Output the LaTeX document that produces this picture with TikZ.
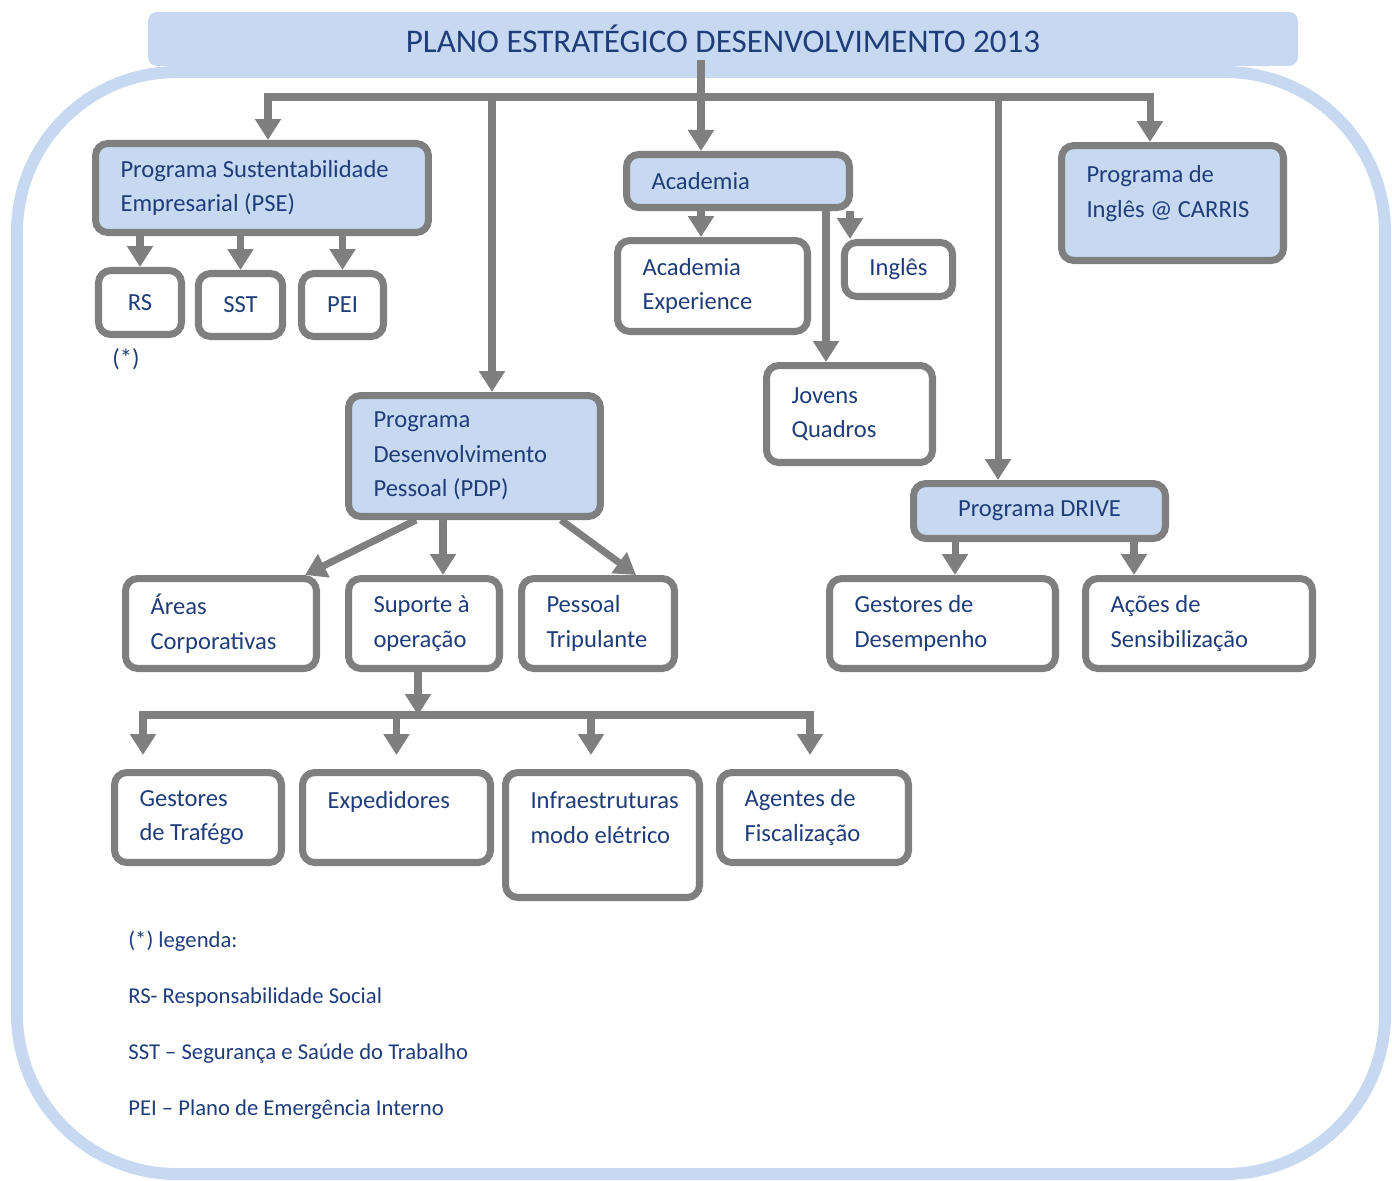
\documentclass[tikz,border=0pt]{standalone}
\usepackage{fontspec}
\setmainfont{Carlito}
\usetikzlibrary{arrows.meta,calc}
\definecolor{frameblue}{HTML}{C6D9F1}
\definecolor{lgrey}{HTML}{7F7F7F}
\definecolor{txtblue}{HTML}{1F3D7A}
\tikzset{
  box/.style={draw=lgrey, line width=4pt, rounded corners=7pt, fill=white,
    text=txtblue, font=\fontsize{14}{19.6}\selectfont, inner xsep=0.5cm, inner ysep=2pt},
  lbox/.style={box, align=left, execute at begin node={\spaceskip=0pt\xspaceskip=0pt\relax}},
  prog/.style={fill=frameblue},
  arr/.style={draw=lgrey, line width=4pt, >={Triangle[width=0.5cm,length=0.42cm]}, ->},
  leg/.style={anchor=west, text=txtblue, font=\fontsize{12.9}{15}\selectfont, inner sep=0pt}
}

\begin{document}
\begin{tikzpicture}[x=0.02cm, y=-0.02cm]
            \useasboundingbox (0,0) rectangle (1392,1180);

            % Outer frame
            \draw[frameblue, line width=6.8pt, rounded corners=3.2cm] (17,72) rectangle (1385,1174);

            % Title
            \node[fill=frameblue, rounded corners=5pt, minimum width=23cm, minimum height=1.08cm,
                  text=txtblue, font=\fontsize{18.8}{22}\selectfont] (title) at (723,39)
                  {PLANO ESTRATÉGICO DESENVOLVIMENTO 2013};

            % First level
            \node[lbox, prog, minimum width=6.66cm, minimum height=1.78cm, text width=5.66cm] (pse) at (262,188) {Programa Sustentabilidade\\Empresarial (PSE)};
            \node[lbox, prog, minimum width=4.46cm, minimum height=1.06cm, text width=3.46cm] (aca) at (738,181) {Academia};
            \node[lbox, prog, minimum width=4.44cm, minimum height=2.3cm, text width=3.44cm, text depth=1.15cm] (carris) at (1172.5,203) {Programa de\\Inglês @ CARRIS};
            \node[lbox, prog, minimum width=5.04cm, minimum height=2.42cm, text width=4.04cm] (pdp) at (474.5,456) {Programa\\Desenvolvimento\\Pessoal (PDP)};
            \node[box, prog, minimum width=5.04cm, minimum height=1.1cm] (drive) at (1039.5,511) {Programa DRIVE};

            % PSE children
            \node[box, minimum width=1.66cm, minimum height=1.28cm] (rs) at (140,302.5) {RS};
            \node[box, minimum width=1.68cm, minimum height=1.26cm] (sst) at (240.5,305) {SST};
            \node[box, minimum width=1.64cm, minimum height=1.26cm] (pei) at (342.5,305) {PEI};
            \node[text=txtblue, font=\fontsize{14}{19.6}\selectfont] (star) at (126,359) {(*)};

            % Academia children
            \node[lbox, minimum width=3.8cm, minimum height=1.82cm, text width=2.8cm] (acexp) at (712.5,286) {Academia\\Experience};
            \node[box, minimum width=2.12cm, minimum height=1.08cm] (ingles) at (898.5,269.5) {Inglês};
            \node[lbox, minimum width=3.32cm, minimum height=1.94cm, text width=2.32cm] (jovens) at (849.5,414) {Jovens\\Quadros};

            % PDP children
            \node[lbox, minimum width=3.82cm, minimum height=1.8cm, text width=2.82cm] (areas) at (221,623.5) {Áreas\\Corporativas};
            \node[lbox, minimum width=3.02cm, minimum height=1.8cm, text width=2.02cm] (suporte) at (424,623.5) {Suporte à\\operação};
            \node[lbox, minimum width=3.06cm, minimum height=1.8cm, text width=2.06cm] (pessoal) at (598,623.5) {Pessoal\\Tripulante};

            % DRIVE children
            \node[lbox, minimum width=4.52cm, minimum height=1.8cm, text width=3.52cm] (gdes) at (942.5,623.5) {Gestores de\\Desempenho};
            \node[lbox, minimum width=4.54cm, minimum height=1.8cm, text width=3.54cm] (acoes) at (1199,623.5) {Ações de\\Sensibilização};

            % Suporte children
            \node[lbox, minimum width=3.34cm, minimum height=1.8cm, text width=2.34cm] (gtraf) at (198,817.5) {Gestores\\de Trafégo};
            \node[lbox, minimum width=3.76cm, minimum height=1.8cm, text width=2.76cm, text depth=0.72cm] (expd) at (396.5,817.5) {Expedidores};
            \node[lbox, minimum width=3.88cm, minimum height=2.5cm, text width=2.88cm, text depth=1.38cm] (infra) at (602.5,835) {Infraestruturas\\modo elétrico};
            \node[lbox, minimum width=3.78cm, minimum height=1.8cm, text width=2.78cm] (agent) at (814,817.5) {Agentes de\\Fiscalização};

            % Top bus
            \coordinate (busL) at (268,97);
            \coordinate (busM) at (701,97);
            \coordinate (busR) at (1150,97);
            \coordinate (jPdp) at (492,97);
            \coordinate (jDrv) at (998,97);
            \draw[arr] ($(title.south -| busM)+(0,-6)$) -- (aca.north -| busM);
            \draw[arr, <->] (pse.north -| busL) -- (busL) -- (busR) -- (carris.north -| busR);
            \draw[arr] (jPdp) -- (jPdp |- pdp.north);
            \draw[arr] (jDrv) -- (jDrv |- drive.north);

            % PSE arrows
            \foreach \n in {rs,sst,pei}
                \draw[arr] (pse.south -| \n.north) -- (\n.north);

            % Academia arrows
            \draw[arr] (aca.south -| busM) -- (acexp.north -| busM);
            \draw[arr] ([xshift=-0.06cm]aca.south east) -- ([xshift=-0.06cm]aca.south east |- ingles.north);
            \draw[arr] ([xshift=-0.54cm]aca.south east) -- ([xshift=-0.54cm]aca.south east |- jovens.north);

            % PDP arrows
            \coordinate (supIn) at ($(suporte.north)+(19,0)$);
            \draw[arr] ($(pdp.south west)+(71,0)$) -- ($(areas.north east)+(-15,0)$);
            \draw[arr] (pdp.south -| supIn) -- (supIn);
            \draw[arr] ($(pdp.south east)+(-43,0)$) -- ($(pessoal.north)+(38,0)$);

            % DRIVE arrows
            \coordinate (dA) at ($(drive.south west)+(45,0)$);
            \coordinate (dB) at ($(drive.south east)+(-35,0)$);
            \draw[arr] (dA) -- (dA |- gdes.north);
            \draw[arr] (dB) -- (dB |- acoes.north);

            % Lower bus
            \coordinate (bL) at (143,715);
            \coordinate (bS) at (418,715);
            \coordinate (bR) at (810,715);
            \coordinate (bI) at (591,715);
            \draw[arr] (bS |- suporte.south) -- (bS);
            \draw[arr, <->, shorten <=0.28cm, shorten >=0.28cm] (bL |- gtraf.north) -- (bL) -- (bR) -- (bR |- agent.north);
            \draw[arr, shorten >=0.28cm] (expd.north |- bL) -- (expd.north);
            \draw[arr, shorten >=0.28cm] (bI) -- (bI |- infra.north);

            % Legend
            \foreach \t [count=\i from 0] in {(*) legenda:, RS- Responsabilidade Social, SST -- Segurança e Saúde do Trabalho, PEI -- Plano de Emergência Interno}
                \node[leg] (leg\i) at (128,941+56.3*\i) {\t};
\end{tikzpicture}
\end{document}
